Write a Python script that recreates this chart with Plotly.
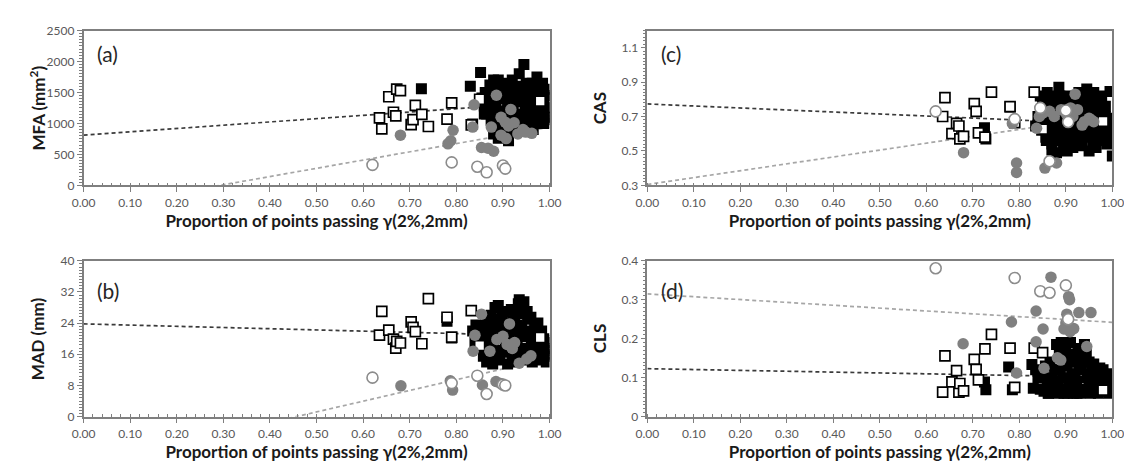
import plotly.graph_objects as go

# ---------------- data ----------------
# open squares (shared x across panels)
OS_X = [0.635, 0.640, 0.655, 0.665, 0.670, 0.672, 0.680, 0.703, 0.707, 0.712, 0.726, 0.740, 0.780, 0.790, 0.832, 0.850, 0.980]
OS_A = [1090, 910, 1430, 1180, 1120, 1555, 1530, 980, 1060, 1290, 1145, 950, 1070, 1330, 975, 1390, 1360]
OS_B = [20.9, 27.0, 22.2, 19.9, 17.6, 19.3, 18.9, 24.3, 22.9, 21.8, 18.7, 30.3, 25.5, 20.4, 27.2, 18.2, 20.3]
OS_C = [0.700, 0.810, 0.600, 0.660, 0.645, 0.570, 0.585, 0.775, 0.730, 0.605, 0.580, 0.842, 0.758, 0.665, 0.842, 0.627, 0.672]
OS_D = [0.063, 0.156, 0.089, 0.118, 0.063, 0.085, 0.066, 0.147, 0.121, 0.094, 0.174, 0.211, 0.176, 0.075, 0.176, 0.164, 0.068]

# open circles (shared x across panels)
OC_X = [0.620, 0.790, 0.845, 0.865, 0.900, 0.905]
OC_A = [330, 370, 300, 210, 320, 270]
OC_B = [10.0, 8.6, 10.5, 5.8, 8.2, 8.0]
OC_C = [0.730, 0.685, 0.750, 0.440, 0.735, 0.668]
OC_D = [0.381, 0.356, 0.322, 0.318, 0.337, 0.250]

# grey filled circles
GC_A_X = [0.680, 0.782, 0.788, 0.793, 0.835, 0.838, 0.854, 0.868, 0.880, 0.875, 0.886, 0.896, 0.905, 0.917, 0.896, 0.907, 0.924, 0.932, 0.943, 0.949, 0.962, 0.912]
GC_A_Y = [810, 670, 720, 890, 940, 1300, 610, 600, 550, 940, 1455, 1100, 1020, 1225, 810, 755, 1010, 830, 900, 860, 840, 960]
GC_B_X = [0.681, 0.787, 0.792, 0.836, 0.840, 0.854, 0.856, 0.872, 0.885, 0.900, 0.914, 0.887, 0.909, 0.935, 0.951, 0.960, 0.920, 0.895, 0.925]
GC_B_Y = [7.9, 9.2, 6.8, 16.8, 20.9, 26.3, 8.1, 16.8, 9.0, 20.6, 23.8, 19.8, 18.5, 13.7, 14.8, 15.6, 17.5, 8.5, 19.0]
GC_C_X = [0.680, 0.794, 0.794, 0.785, 0.837, 0.843, 0.855, 0.850, 0.865, 0.880, 0.875, 0.890, 0.900, 0.905, 0.920, 0.915, 0.925, 0.935, 0.940, 0.950, 0.955, 0.960, 0.910]
GC_C_Y = [0.490, 0.430, 0.375, 0.660, 0.632, 0.700, 0.400, 0.720, 0.730, 0.430, 0.700, 0.740, 0.720, 0.685, 0.830, 0.700, 0.740, 0.650, 0.670, 0.690, 0.680, 0.670, 0.750]
GC_D_X = [0.679, 0.783, 0.794, 0.836, 0.836, 0.851, 0.853, 0.868, 0.882, 0.889, 0.896, 0.902, 0.906, 0.908, 0.909, 0.917, 0.928, 0.945, 0.954, 0.900]
GC_D_Y = [0.187, 0.243, 0.112, 0.271, 0.192, 0.225, 0.124, 0.358, 0.151, 0.145, 0.225, 0.263, 0.308, 0.300, 0.218, 0.226, 0.267, 0.180, 0.267, 0.240]

# black filled squares
BS_A_X = [0.725, 0.830, 0.852, 0.835, 0.855, 0.860,
          0.865, 0.868, 0.870, 0.872, 0.875, 0.878, 0.880, 0.882, 0.885, 0.887,
          0.890, 0.892, 0.895, 0.897, 0.900, 0.902, 0.905, 0.907, 0.910, 0.912,
          0.915, 0.917, 0.920, 0.922, 0.925, 0.928, 0.930, 0.932, 0.935, 0.938,
          0.940, 0.943, 0.945, 0.948, 0.950, 0.953, 0.955, 0.958, 0.960, 0.963,
          0.965, 0.968, 0.970, 0.973, 0.975, 0.978, 0.980, 0.983, 0.985, 0.988,
          0.990, 0.993, 0.995, 0.998, 1.000,
          0.880, 0.890, 0.905, 0.925, 0.950, 0.970, 0.990, 0.860, 0.875,
          0.866, 0.884, 0.898, 0.914, 0.927, 0.941, 0.957, 0.972, 0.986, 0.996,
          0.871, 0.889, 0.903, 0.919, 0.934, 0.946, 0.962, 0.977, 0.992, 0.862]
BS_A_Y = [1560, 1600, 1820, 990, 1410, 1280,
          1150, 1500, 1300, 1620, 1050, 1400, 1700, 900, 1250, 1550,
          1700, 1100, 1400, 780, 1650, 1200, 950, 1500, 1350, 720,
          1600, 1100, 1700, 1250, 900, 1500, 1150, 1600, 1800, 1350,
          1000, 1550, 1950, 1200, 1650, 1400, 1050, 1550, 1300, 1650,
          900, 1450, 1200, 1750, 1050, 1350, 1600, 1150, 1650, 1000,
          1450, 1250, 1550, 1100, 1420,
          830, 760, 820, 860, 950, 1000, 1060, 1150, 1050,
          1400, 1350, 1550, 1450, 1350, 1500, 1200, 1450, 1350, 1250,
          1200, 1000, 1100, 1000, 1450, 1100, 1000, 1250, 1100, 1500]
BS_B_X = [0.780, 0.790, 0.835, 0.840, 0.845, 0.850,
          0.855, 0.858, 0.860, 0.863, 0.865, 0.868, 0.870, 0.873, 0.875, 0.878,
          0.880, 0.883, 0.885, 0.888, 0.890, 0.893, 0.895, 0.898, 0.900, 0.903,
          0.905, 0.908, 0.910, 0.913, 0.915, 0.918, 0.920, 0.923, 0.925, 0.928,
          0.930, 0.933, 0.935, 0.938, 0.940, 0.943, 0.945, 0.948, 0.950, 0.953,
          0.955, 0.958, 0.960, 0.963, 0.965, 0.968, 0.970, 0.973, 0.975, 0.978,
          0.980, 0.983, 0.985, 0.988, 0.990, 0.993, 0.995, 1.000,
          0.870, 0.890, 0.910, 0.930, 0.950, 0.970, 0.990, 0.880,
          0.862, 0.877, 0.894, 0.906, 0.921, 0.937, 0.952, 0.967, 0.982, 0.996,
          0.866, 0.884, 0.899, 0.916, 0.931, 0.946, 0.961, 0.976, 0.987, 0.842]
BS_B_Y = [24.5, 20.2, 22.0, 19.0, 21.5, 17.5,
          23.0, 15.5, 20.0, 25.0, 14.0, 18.5, 22.5, 16.0, 26.0, 13.5,
          20.5, 28.0, 17.0, 23.5, 28.5, 14.5, 21.0, 25.5, 16.5, 27.0,
          19.0, 22.5, 13.5, 24.0, 18.0, 27.5, 15.0, 21.5, 26.0, 14.0,
          19.5, 29.0, 30.0, 16.5, 23.0, 27.5, 29.5, 14.5, 20.5, 25.0,
          17.0, 22.0, 25.5, 14.0, 19.0, 23.5, 16.0, 21.0, 24.0, 14.5,
          18.5, 22.0, 15.5, 20.0, 17.0, 14.0, 19.0, 17.5,
          18.0, 16.0, 20.0, 18.0, 17.5, 20.5, 16.0, 19.0,
          21.0, 23.0, 25.0, 21.0, 24.5, 26.5, 27.0, 20.0, 21.0, 15.5,
          17.0, 24.5, 22.5, 19.0, 23.5, 21.5, 18.0, 18.0, 19.5, 23.5]
BS_C_X = [0.725, 0.728, 0.780, 0.835, 0.995, 1.000, 0.870, 0.880,
          0.845, 0.848, 0.850, 0.855, 0.858, 0.860, 0.863, 0.865, 0.868, 0.872,
          0.875, 0.878, 0.882, 0.885, 0.888, 0.890, 0.893, 0.895, 0.898, 0.900,
          0.903, 0.905, 0.908, 0.910, 0.913, 0.915, 0.918, 0.920, 0.923, 0.925,
          0.928, 0.930, 0.933, 0.935, 0.938, 0.940, 0.943, 0.945, 0.948, 0.950,
          0.953, 0.955, 0.958, 0.960, 0.963, 0.965, 0.968, 0.970, 0.973, 0.975,
          0.978, 0.980, 0.983, 0.985, 0.988, 0.990, 0.993, 0.997,
          0.860, 0.890, 0.910, 0.930, 0.950, 0.970, 0.990, 0.840,
          0.852, 0.867, 0.884, 0.896, 0.911, 0.926, 0.941, 0.956, 0.971, 0.986,
          0.857, 0.874, 0.887, 0.902, 0.917, 0.932, 0.947, 0.962, 0.977, 0.992,
          0.870, 0.900, 0.930, 0.960, 0.985]
BS_C_Y = [0.635, 0.570, 0.755, 0.645, 0.845, 0.470, 0.505, 0.490,
          0.820, 0.620, 0.760, 0.680, 0.560, 0.840, 0.600, 0.780, 0.700, 0.580,
          0.820, 0.650, 0.560, 0.870, 0.720, 0.600, 0.800, 0.540, 0.680, 0.760,
          0.500, 0.640, 0.820, 0.580, 0.720, 0.520, 0.780, 0.620, 0.690, 0.560,
          0.840, 0.600, 0.740, 0.530, 0.800, 0.660, 0.580, 0.860, 0.700, 0.500,
          0.620, 0.790, 0.560, 0.840, 0.680, 0.520, 0.740, 0.600, 0.780, 0.640,
          0.560, 0.700, 0.620, 0.760, 0.540, 0.660, 0.600, 0.690,
          0.640, 0.630, 0.660, 0.620, 0.640, 0.580, 0.640, 0.700,
          0.700, 0.620, 0.780, 0.580, 0.760, 0.800, 0.740, 0.720, 0.700, 0.580,
          0.580, 0.760, 0.820, 0.540, 0.620, 0.680, 0.620, 0.560, 0.820, 0.580,
          0.540, 0.580, 0.800, 0.760, 0.700]
BS_D_X = [0.725, 0.728, 0.777, 0.785, 0.827, 0.830, 0.845,
          0.850, 0.853, 0.856, 0.860, 0.863, 0.866, 0.870, 0.873, 0.876, 0.880,
          0.883, 0.886, 0.890, 0.893, 0.896, 0.900, 0.903, 0.906, 0.910, 0.913,
          0.916, 0.920, 0.923, 0.926, 0.930, 0.933, 0.936, 0.940, 0.943, 0.946,
          0.950, 0.953, 0.956, 0.960, 0.963, 0.966, 0.970, 0.973, 0.976, 0.980,
          0.983, 0.986, 0.990, 0.993, 0.996, 1.000,
          0.870, 0.890, 0.910, 0.930, 0.950, 0.970, 0.990, 0.880, 0.920, 0.960,
          0.862, 0.878, 0.888, 0.898, 0.908, 0.918, 0.928, 0.938, 0.948, 0.958,
          0.868, 0.884, 0.894, 0.904, 0.914, 0.924, 0.934, 0.944, 0.954, 0.968,
          0.978, 0.988, 0.840, 0.835]
BS_D_Y = [0.089, 0.069, 0.127, 0.069, 0.134, 0.073, 0.070,
          0.100, 0.065, 0.130, 0.080, 0.060, 0.140, 0.100, 0.065, 0.120, 0.185,
          0.075, 0.160, 0.190, 0.100, 0.060, 0.170, 0.130, 0.080, 0.190, 0.110,
          0.060, 0.150, 0.090, 0.175, 0.070, 0.120, 0.160, 0.185, 0.065, 0.100,
          0.140, 0.060, 0.120, 0.135, 0.080, 0.110, 0.060, 0.125, 0.090, 0.120,
          0.065, 0.100, 0.080, 0.060, 0.095, 0.075,
          0.085, 0.070, 0.080, 0.060, 0.080, 0.085, 0.070, 0.120, 0.100, 0.090,
          0.060, 0.090, 0.120, 0.140, 0.160, 0.140, 0.120, 0.140, 0.110, 0.080,
          0.080, 0.060, 0.150, 0.060, 0.090, 0.060, 0.140, 0.160, 0.090, 0.100,
          0.070, 0.110, 0.100, 0.120]

# linear trendlines: [intercept, slope] for panels a, b, c, d
TREND_DARK_INTERCEPT = [810, 23.8, 0.773, 0.123]
TREND_DARK_SLOPE = [535, -3.1, -0.117, -0.022]
TREND_GREY_INTERCEPT = [-390, -12.6, 0.305, 0.315]
TREND_GREY_SLOPE = [1330, 27.6, 0.40, -0.073]
TREND_X = [0.0, 1.0]

PANEL_LETTERS = ["(a)", "(b)", "(c)", "(d)"]
Y_TITLES = ["MFA (mm<sup>2</sup>)", "MAD (mm)", "CAS", "CLS"]
Y_RANGES = [[0, 2500], [0, 40], [0.3, 1.2], [0, 0.4]]
Y_TICK0 = [0, 0, 0.3, 0]
Y_DTICK = [500, 8, 0.2, 0.1]
X_TITLE = "Proportion of points passing γ(2%,2mm)"

# ---------------- figure ----------------
W, H = 1132, 463
FONT = "Lato"
AX_GREY = "#7f7f7f"

panels = [
    dict(bs=(BS_A_X, BS_A_Y), os=OS_A, gc=(GC_A_X, GC_A_Y), oc=OC_A),
    dict(bs=(BS_B_X, BS_B_Y), os=OS_B, gc=(GC_B_X, GC_B_Y), oc=OC_B),
    dict(bs=(BS_C_X, BS_C_Y), os=OS_C, gc=(GC_C_X, GC_C_Y), oc=OC_C),
    dict(bs=(BS_D_X, BS_D_Y), os=OS_D, gc=(GC_D_X, GC_D_Y), oc=OC_D),
]

# plot-area pixel boxes: (left, right, top, bottom)
boxes = [(65, 541, 15, 175), (65, 541, 253, 414), (641, 1116, 15, 175), (641, 1116, 253, 414)]

fig = go.Figure()
layout = dict(width=W, height=H, margin=dict(l=0, r=0, t=0, b=0),
              paper_bgcolor="white", plot_bgcolor="white", showlegend=False,
              font=dict(family=FONT, color="#595959", size=12))
annotations = []

for i, p in enumerate(panels):
    n = i + 1
    xa = "x" if n == 1 else f"x{n}"
    ya = "y" if n == 1 else f"y{n}"
    l, r, t, b = boxes[i]
    xdom = [l / W, r / W]
    ydom = [(H - b) / H, (H - t) / H]

    lx = TREND_X
    dark_y = [TREND_DARK_INTERCEPT[i] + TREND_DARK_SLOPE[i] * v for v in lx]
    grey_y = [TREND_GREY_INTERCEPT[i] + TREND_GREY_SLOPE[i] * v for v in lx]
    fig.add_trace(go.Scatter(x=lx, y=grey_y, mode="lines", xaxis=xa, yaxis=ya,
                             line=dict(color="#a6a6a6", width=1.7, dash="4px,3px"), hoverinfo="skip"))
    fig.add_trace(go.Scatter(x=lx, y=dark_y, mode="lines", xaxis=xa, yaxis=ya,
                             line=dict(color="#3a3a3a", width=1.7, dash="4px,3px"), hoverinfo="skip"))
    fig.add_trace(go.Scatter(x=p["bs"][0], y=p["bs"][1], mode="markers", xaxis=xa, yaxis=ya,
                             marker=dict(symbol="square", size=11, color="black",
                                         line=dict(color="black", width=0))))
    fig.add_trace(go.Scatter(x=OS_X, y=p["os"], mode="markers", xaxis=xa, yaxis=ya,
                             marker=dict(symbol="square", size=10, color="white",
                                         line=dict(color="black", width=1.7))))
    fig.add_trace(go.Scatter(x=p["gc"][0], y=p["gc"][1], mode="markers", xaxis=xa, yaxis=ya,
                             marker=dict(symbol="circle", size=11.5, color="#808080",
                                         line=dict(color="#808080", width=0))))
    fig.add_trace(go.Scatter(x=OC_X, y=p["oc"], mode="markers", xaxis=xa, yaxis=ya,
                             marker=dict(symbol="circle", size=11, color="white",
                                         line=dict(color="#8c8c8c", width=1.6))))

    axis_common = dict(showline=True, linecolor=AX_GREY, linewidth=1.6, mirror=True,
                       showgrid=False, zeroline=False, ticks="outside", ticklen=5,
                       tickcolor=AX_GREY, tickwidth=1,
                       tickfont=dict(family=FONT, size=12, color="#595959"))
    layout["xaxis" if n == 1 else f"xaxis{n}"] = dict(
        axis_common, domain=xdom, anchor=ya, range=[0, 1.0], tick0=0, dtick=0.1,
        tickformat=".2f",
        minor=dict(ticks="inside", ticklen=3, dtick=0.02, tickcolor=AX_GREY, showgrid=False),
        title=dict(text=f"<b>{X_TITLE}</b>", font=dict(family=FONT, size=17, color="#1a1a1a"), standoff=4))
    layout["yaxis" if n == 1 else f"yaxis{n}"] = dict(
        axis_common, domain=ydom, anchor=xa, range=Y_RANGES[i], tick0=Y_TICK0[i], dtick=Y_DTICK[i],
        minor=dict(ticks="outside", ticklen=3, dtick=Y_DTICK[i] / 10, tickcolor=AX_GREY, showgrid=False))

    # y title as rotated annotation
    annotations.append(dict(text=f"<b>{Y_TITLES[i]}</b>", xref="paper", yref="paper",
                            x=(18 if l < 300 else 592) / W, y=sum(ydom) / 2,
                            textangle=-90, showarrow=False, xanchor="center", yanchor="middle",
                            font=dict(family=FONT, size=17, color="#1a1a1a")))
    # panel letter
    annotations.append(dict(text=PANEL_LETTERS[i], xref=f"{xa} domain", yref=f"{ya} domain",
                            x=0.024, y=0.85 if i in (0, 2) else 0.81, xanchor="left", yanchor="middle",
                            showarrow=False, font=dict(family=FONT, size=21, color="#262626")))

layout["annotations"] = annotations
fig.update_layout(**layout)
fig.write_html("out.html")
